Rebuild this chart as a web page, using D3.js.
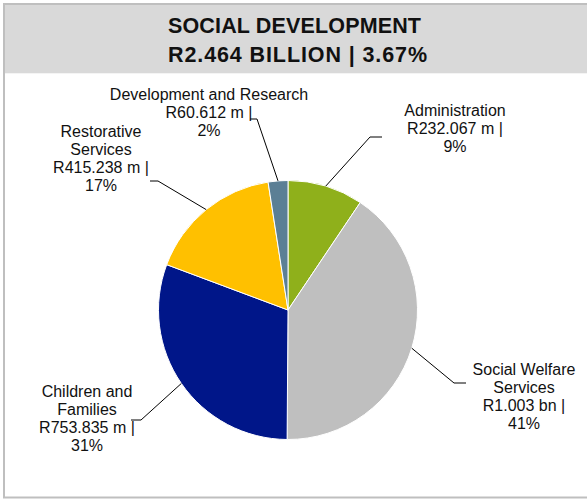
<!DOCTYPE html>
<html>
<head>
<meta charset="utf-8">
<script src="https://cdn.jsdelivr.net/npm/d3@7"></script>
<style>
  html, body { margin: 0; padding: 0; background: #ffffff; }
  svg { display: block; }
</style>
</head>
<body>
<svg id="chart" width="587" height="499"></svg>
<script>
// Programme budgets, in R million
const programmes = ["Administration", "Social Welfare Services", "Children and Families", "Restorative Services", "Development and Research"];
const amountsRm = [232.067, 1003.0, 753.835, 415.238, 60.612];
const sliceColours = ["#8fb01b", "#bfbfbf", "#001689", "#ffc000", "#5b7f95"];
// How each programme name wraps in its label
const labelNameLines = [["Administration"], ["Social Welfare", "Services"], ["Children and", "Families"], ["Restorative", "Services"], ["Development and Research"]];
const titleLines = ["SOCIAL DEVELOPMENT", "R2.464 BILLION | 3.67%"];

// Label placement: text centre, first baseline, leader elbow and leader end
const labelLayout = [
  { x: 455, y: 116, elbow: [370, 137], end: [382, 137] },
  { x: 524, y: 375, elbow: [454, 383], end: [466, 383] },
  { x: 87,  y: 397, elbow: [141, 420], end: [131, 420] },
  { x: 101, y: 137, elbow: [158, 181], end: [150, 181] },
  { x: 209, y: 100, elbow: [257, 119], end: [250, 119] }
];

const svg = d3.select("#chart");
const W = 587, H = 499;
const cx = 288, cy = 310, R = 129.5;
const lineStep = 18;

// Frame and title band
svg.append("rect")
  .attr("x", 4).attr("y", 4).attr("width", 600).attr("height", 493.5)
  .attr("fill", "#ffffff").attr("stroke", "#bfbfbf").attr("stroke-width", 2);
svg.append("rect")
  .attr("x", 5).attr("y", 5).attr("width", 582).attr("height", 68.3)
  .attr("fill", "#d9d9d9");

const titleWidths = [253, 259];
svg.selectAll("text.title")
  .data(titleLines)
  .join("text")
  .attr("class", "title")
  .attr("x", (d, i) => i === 0 ? 294.5 : 297.5)
  .attr("y", (d, i) => 33 + i * 29)
  .attr("text-anchor", "middle")
  .attr("textLength", (d, i) => titleWidths[i])
  .style("font-family", "'Liberation Sans', Arial, sans-serif")
  .style("font-weight", "bold")
  .style("font-size", "21.5px")
  .style("fill", "#111111")
  .text(d => d);

// Pie
const rows = programmes.map((name, i) => ({ name, value: amountsRm[i], colour: sliceColours[i], idx: i }));
const total = d3.sum(amountsRm);

const pie = d3.pie().sort(null).value(d => d.value).startAngle(0).endAngle(2 * Math.PI);
const arcs = pie(rows);
const arc = d3.arc().innerRadius(0).outerRadius(R);
const edge = d3.arc().innerRadius(R).outerRadius(R);

const g = svg.append("g").attr("transform", `translate(${cx},${cy})`);
g.selectAll("path.slice")
  .data(arcs)
  .join("path")
  .attr("class", "slice")
  .attr("d", arc)
  .attr("fill", d => d.data.colour)
  .attr("stroke", "#ffffff")
  .attr("stroke-width", 1);

// Leader lines from slice edge to label
const line = d3.line();
svg.selectAll("path.leader")
  .data(arcs)
  .join("path")
  .attr("class", "leader")
  .attr("d", d => {
    const c = edge.centroid(d);
    const L = labelLayout[d.data.idx];
    return line([[cx + c[0], cy + c[1]], L.elbow, L.end]);
  })
  .attr("fill", "none")
  .attr("stroke", "#000000")
  .attr("stroke-width", 1);

// Labels: name, amount and share
const fmtAmount = v => v >= 1000 ? `R${(v / 1000).toFixed(3)} bn` : `R${v.toFixed(3)} m`;
const labels = svg.selectAll("g.label")
  .data(arcs)
  .join("g")
  .attr("class", "label");

labels.each(function (d) {
  const i = d.data.idx;
  const L = labelLayout[i];
  const lines = labelNameLines[i].concat([
    `${fmtAmount(d.data.value)} |`,
    `${Math.round(d.data.value / total * 100)}%`
  ]);
  d3.select(this).selectAll("text")
    .data(lines)
    .join("text")
    .attr("x", L.x)
    .attr("y", (t, k) => L.y + k * lineStep)
    .attr("text-anchor", "middle")
    .style("font-family", "'Liberation Sans', Arial, sans-serif")
    .style("font-size", "16px")
    .style("fill", "#111111")
    .text(t => t);
});
</script>
</body>
</html>
